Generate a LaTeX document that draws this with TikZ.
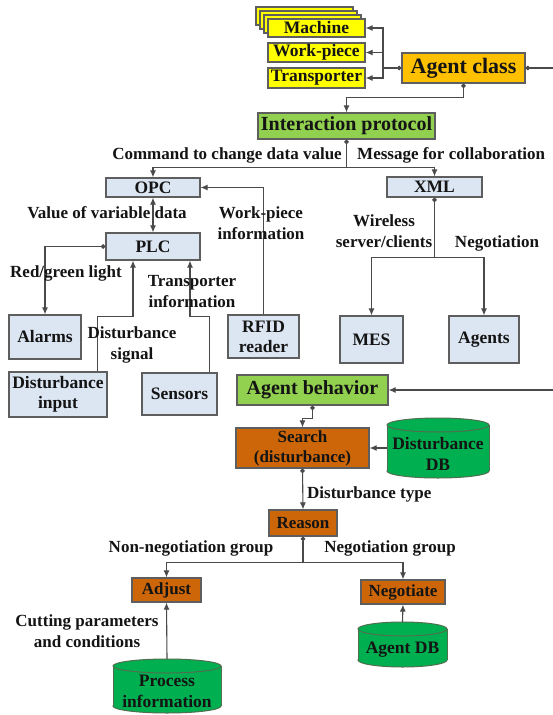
\documentclass[tikz,border=0pt]{standalone}
\usepackage{fontspec}
\setmainfont{Liberation Serif}
\usetikzlibrary{arrows.meta}

\definecolor{boxline}{HTML}{5E5E5E}
\definecolor{linecol}{HTML}{4A4A4A}
\definecolor{txt}{HTML}{141414}
\definecolor{yellowfill}{HTML}{FFFF00}
\definecolor{goldfill}{HTML}{FFC000}
\definecolor{greenfill}{HTML}{92D050}
\definecolor{bluefill}{HTML}{DCE6F2}
\definecolor{brownfill}{HTML}{CC6608}
\definecolor{dbfill}{HTML}{00B050}
\definecolor{dbline}{HTML}{4F6F4F}

% database drum: centre x, top y, bottom y, half width
\newcommand\dbdrum[4]{%
  \filldraw[fill=dbfill,draw=dbline,line width=1pt] (#1,#3-7) ellipse [x radius=#4pt, y radius=7pt];
  \fill[dbfill] (#1-#4,#2+7) rectangle (#1+#4,#3-7);
  \draw[dbline,line width=1pt] (#1-#4,#2+7) -- (#1-#4,#3-7) (#1+#4,#2+7) -- (#1+#4,#3-7);
  \filldraw[fill=dbfill,draw=dbline,line width=1pt] (#1,#2+7) ellipse [x radius=#4pt, y radius=7pt];
}

\begin{document}
\begin{tikzpicture}[x=1pt,y=-1pt,
  basebox/.style={draw=boxline,line width=1.2pt,inner sep=0pt,align=center,text=txt,
    font=\fontsize{17.5}{20}\selectfont\bfseries},
  yellowbox/.style={basebox,fill=yellowfill},
  goldbox/.style={basebox,fill=goldfill,font=\fontsize{22}{24}\selectfont\bfseries},
  greenbox/.style={basebox,fill=greenfill,font=\fontsize{20}{22}\selectfont\bfseries},
  bluebox/.style={basebox,fill=bluefill},
  brownbox/.style={basebox,fill=brownfill,font=\fontsize{17}{20}\selectfont\bfseries},
  dbnode/.style={inner sep=0pt,align=center,text=txt,font=\fontsize{17.5}{21}\selectfont\bfseries},
  lbl/.style={inner sep=0pt,align=center,text=txt,font=\fontsize{17}{21}\selectfont\bfseries},
  conn/.style={draw=linecol,line width=1.1pt},
  arr/.style={conn,-{Latex[length=7pt,width=6pt]}},
  dotarr/.style={conn,{Circle[length=4.5pt]}-{Latex[length=7pt,width=6pt]}},
  dotline/.style={conn,{Circle[length=4.5pt]}-},
  biarr/.style={conn,{Latex[length=7pt,width=6pt]}-{Latex[length=7pt,width=6pt]}},
]
\useasboundingbox (0,0) rectangle (553,715);
\fill[white] (0,0) rectangle (553,715);

% ---- agent class and its kinds
\node[yellowbox,minimum width=97,minimum height=18] (mach3) at (304.5,16) {};
\node[yellowbox,minimum width=97,minimum height=18] (mach2) at (308.5,20) {};
\node[yellowbox,minimum width=97,minimum height=18] (mach1) at (312.5,24) {};
\node[yellowbox,minimum width=97,minimum height=18] (machine) at (316.5,28) {Machine};
\node[yellowbox,minimum width=97,minimum height=19] (workpiece) at (316.5,52.5) {Work-piece};
\node[yellowbox,minimum width=97,minimum height=20] (transporter) at (316.5,78) {Transporter};
\node[goldbox,minimum width=123,minimum height=30] (agentclass) at (463.5,68) {Agent class};

\node[greenbox,minimum width=177,minimum height=26] (interaction) at (346.5,126) {Interaction protocol};

% ---- communication layer
\node[bluebox,minimum width=94,minimum height=19] (opc) at (153,187.5) {OPC};
\node[bluebox,minimum width=95,minimum height=20] (xml) at (434.5,187) {XML};
\node[bluebox,minimum width=94,minimum height=27] (plc) at (153,246.5) {PLC};
\node[bluebox,minimum width=72,minimum height=44] (alarms) at (45,337) {Alarms};
\node[bluebox,minimum width=71,minimum height=43] (rfid) at (263.5,336.5) {RFID\\reader};
\node[bluebox,minimum width=98,minimum height=45] (distinput) at (58,394.5) {Disturbance\\input};
\node[bluebox,minimum width=75,minimum height=42] (sensors) at (179.5,394) {Sensors};
\node[bluebox,minimum width=63,minimum height=47] (mes) at (371.5,339.5) {MES};
\node[bluebox,minimum width=70,minimum height=47] (agents) at (484,339.5) {Agents};

% ---- behaviour chain
\node[greenbox,minimum width=151,minimum height=30] (behavior) at (312.5,390) {Agent behavior};
\node[brownbox,minimum width=133,minimum height=40] (search) at (302.5,448) {Search\\(disturbance)};
\node[brownbox,minimum width=68,minimum height=26] (reason) at (303,523) {Reason};
\node[brownbox,minimum width=69,minimum height=24] (adjust) at (166.5,590) {Adjust};
\node[brownbox,minimum width=84,minimum height=24] (negotiate) at (403,592) {Negotiate};

% ---- databases
\dbdrum{438}{418}{478}{51}
\node[dbnode,minimum width=102,minimum height=60] (ddb) at (438,448) {};
\node[dbnode] (ddbtext) at (438,454) {Disturbance\\DB};
\dbdrum{167}{659}{713}{54}
\node[dbnode,minimum width=108,minimum height=54] (procinfo) at (167,686) {};
\node[dbnode] (proctext) at (167,691) {Process\\information};
\dbdrum{402.5}{622}{667}{44.5}
\node[dbnode,minimum width=89,minimum height=45] (agentdb) at (402.5,644.5) {};
\node[dbnode] (agentdbtext) at (402.5,650) {Agent DB};

% ---- connectors
\coordinate (bracket) at (383,68);
\draw[dotline] (agentclass.west) -- (bracket);
\draw[arr] (bracket) |- (machine.east);
\draw[arr] (bracket) |- (workpiece.east);
\draw[arr] (bracket) |- (transporter.east);
\draw[dotarr] (agentclass.south) -- ++(0,14) -| (interaction.north);

\coordinate (edgeA) at (553,68);
\coordinate (edgeB) at (553,390);
\draw[dotline] (agentclass.east) -- (edgeA);
\draw[arr] (edgeB) -- (behavior.east);

\draw[dotline] (interaction.south) -- ++(0,28) coordinate (ipj);
\draw[arr] (ipj) -| (opc.north);
\draw[arr] (ipj) -| (xml.north);

\draw[biarr] (opc.south) -- (plc.north);
\draw[arr] (rfid.north) |- (opc.east);
\draw[dotarr] (plc.west) -| (alarms.north);
\draw[arr] ([xshift=-10]distinput.north east) -- ++(0,-55) -| ([xshift=-20]plc.south);
\draw[arr] ([xshift=-8]sensors.north east) -- ++(0,-56) -| ([xshift=37]plc.south);

\draw[dotline] (xml.south) -- ++(0,60) coordinate (xj);
\draw[arr] (xj) -| (mes.north);
\draw[arr] (xj) -| (agents.north);

\draw[dotarr] (behavior.south) -- ++(0,13) -| (search.north);
\draw[arr] (ddb.west) -- (search.east);
\draw[dotarr] (search.south) -- (reason.north);
\draw[dotline] (reason.south) -- ++(0,26) coordinate (rj);
\draw[arr] (rj) -| (adjust.north);
\draw[arr] (rj) -| (negotiate.north);
\draw[arr] (procinfo.north) -- (adjust.south);
\draw[arr] (agentdb.north) -- (negotiate.south);

% ---- connector labels
\node[lbl,anchor=east] (lcmd) at (342,155) {Command to change data value};
\node[lbl,anchor=west] (lmsg) at (357,155) {Message for collaboration};
\node[lbl] (lval) at (107,213) {Value of variable data};
\node[lbl] (lwork) at (261,223) {Work-piece\\information};
\node[lbl] (lred) at (66,273) {Red/green light};
\node[lbl] (ltrans) at (192,292) {Transporter\\information};
\node[lbl] (lsig) at (132,345) {Disturbance\\signal};
\node[lbl] (lwire) at (384,231) {Wireless\\server/clients};
\node[lbl] (lneg) at (497,243) {Negotiation};
\node[lbl,anchor=west] (ltype) at (307,494) {Disturbance type};
\node[lbl] (lnon) at (191,548) {Non-negotiation group};
\node[lbl] (lnegg) at (390,548) {Negotiation group};
\node[lbl] (lcut) at (87,631) {Cutting parameters\\and conditions};
\end{tikzpicture}
\end{document}
